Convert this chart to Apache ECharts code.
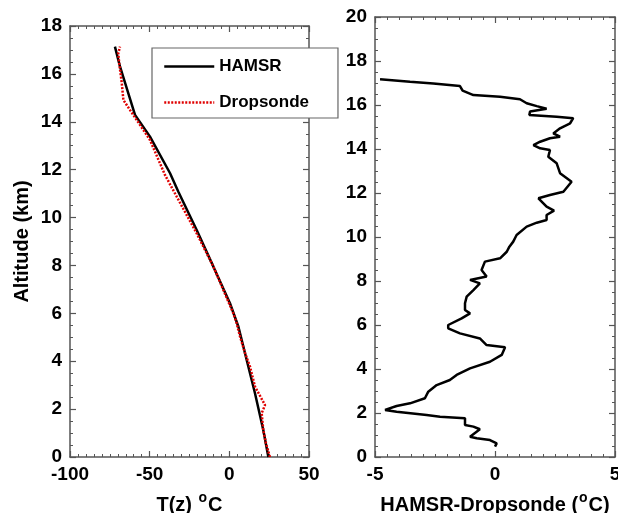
<!DOCTYPE html>
<html>
<head>
<meta charset="utf-8">
<script src="https://cdn.jsdelivr.net/npm/echarts@6/dist/echarts.min.js"></script>
<style>
  html, body { margin: 0; padding: 0; background: #fff; }
  #chart { width: 618px; height: 513px; }
</style>
</head>
<body>
<div id="chart"></div>
<script>
// Temperature profiles (left panel): altitude in km, temperature in degC
const hamsrAlt  = [0, 1.13, 2.66, 4.05, 5.44, 6.42, 7.95, 9.48, 11.08, 11.85, 13.38, 14.29, 16.30, 17.14];
const hamsrTemp = [24.5, 21.3, 16.1, 10.9, 5.7, 0.4, -10.0, -20.5, -32.0, -37.2, -49.8, -59.2, -68.6, -71.8];

const sondeAlt  = [0, 0.57, 1.13, 1.83, 2.17, 2.94, 3.77, 4.33, 5.03, 5.58, 6.0, 7.95, 9.34, 10.87, 11.78, 13.24, 14.29, 14.91, 15.61, 16.44, 16.86, 17.14];
const sondeTemp = [25.5, 23.0, 21.3, 20.3, 22.4, 16.1, 13.0, 9.9, 6.7, 4.6, 2.5, -10.0, -20.5, -33.0, -40.4, -49.8, -60.3, -66.5, -67.5, -69.1, -69.7, -68.6];

// Difference profile (right panel): HAMSR minus dropsonde, degC
const diffAlt = [0.47, 0.62, 0.77, 0.85, 0.92, 1.26, 1.38, 1.45, 1.76, 1.83, 1.91, 2.06, 2.14, 2.32, 2.44, 2.67, 2.97, 3.27, 3.50, 3.73, 4.03, 4.33, 4.64, 4.99, 5.09, 5.39, 5.62, 5.85, 6.0, 6.30, 6.53, 6.68, 6.99, 7.29, 7.59, 7.89, 8.05, 8.2, 8.5, 8.88, 9.03, 9.33, 9.56, 9.79, 10.09, 10.47, 10.65, 10.77, 11.0, 11.20, 11.38, 11.76, 11.91, 12.06, 12.51, 12.90, 13.35, 13.65, 13.95, 14.03, 14.18, 14.33, 14.49, 14.56, 14.71, 14.94, 15.17, 15.40, 15.47, 15.55, 15.70, 15.83, 15.95, 16.08, 16.26, 16.38, 16.45, 16.65, 16.86, 16.98, 17.06, 17.17];
const diffVal = [0.0, 0.07, -0.21, -0.76, -1.04, -0.63, -0.90, -1.25, -1.25, -2.29, -2.85, -4.10, -4.58, -4.10, -3.54, -2.92, -2.78, -2.43, -1.88, -1.60, -1.04, -0.21, 0.28, 0.42, -0.35, -0.63, -1.46, -1.95, -1.95, -1.39, -1.04, -1.25, -1.25, -1.18, -0.90, -0.63, -1.04, -0.35, -0.56, -0.42, 0.21, 0.49, 0.6, 0.76, 0.90, 1.32, 1.74, 2.15, 2.15, 2.46, 2.15, 1.81, 2.29, 2.85, 3.19, 2.71, 2.57, 2.22, 2.29, 1.88, 1.60, 1.88, 2.29, 2.71, 2.43, 2.71, 3.13, 3.26, 2.57, 1.43, 1.46, 2.15, 1.74, 1.32, 1.04, 0.21, -0.90, -1.35, -1.46, -2.57, -3.54, -4.79];

const tempTicks = { min: -100, max: 50, interval: 50 };
const altTicksLeft = { min: 0, max: 18, interval: 2 };
const diffTicks = { min: -5, max: 5, interval: 5 };
const altTicksRight = { min: 0, max: 20, interval: 2 };

const pairs = (xs, ys) => xs.map((x, i) => [x, ys[i]]);

const FONT = '"Liberation Sans", Arial, sans-serif';
const frameColor = '#555';

function axisBase(labels, labelMargin) {
  return {
    type: 'value',
    axisLine: { show: true, onZero: false, lineStyle: { color: frameColor, width: 1.5 } },
    axisTick: { show: true, inside: true, length: 6, lineStyle: { color: frameColor, width: 1.2 } },
    splitLine: { show: false },
    axisLabel: labels
      ? { show: true, color: '#000', fontFamily: FONT, fontWeight: 'bold', fontSize: 19, margin: labelMargin }
      : { show: false }
  };
}

function minor(n) {
  return { show: true, splitNumber: n, length: 3, lineStyle: { color: frameColor, width: 1 } };
}

const titleStyle = {
  color: '#000', fontFamily: FONT, fontWeight: 'bold', fontSize: 20,
  rich: {
    b: { color: '#000', fontFamily: FONT, fontWeight: 'bold', fontSize: 20 },
    s: { color: '#000', fontFamily: FONT, fontWeight: 'bold', fontSize: 14, padding: [0, 1, 14, 1] }
  }
};

const chart = echarts.init(document.getElementById('chart'), null, { renderer: 'canvas' });

chart.setOption({
  animation: false,
  backgroundColor: '#fff',
  grid: [
    { left: 70, right: 309, top: 26, bottom: 56, containLabel: false, outerBoundsMode: 'none' },
    { left: 375, right: 3, top: 17, bottom: 56, containLabel: false, outerBoundsMode: 'none' }
  ],
  legend: {
    data: ['HAMSR', 'Dropsonde'],
    orient: 'vertical',
    left: 152, top: 48,
    padding: [10, 29, 7, 11],
    itemWidth: 50, itemHeight: 14, itemGap: 19,
    backgroundColor: '#fff',
    borderColor: '#666', borderWidth: 1.2,
    itemStyle: { opacity: 0 },
    lineStyle: { width: 2.5 },
    textStyle: { color: '#000', fontFamily: FONT, fontWeight: 'bold', fontSize: 17 },
    z: 10
  },
  xAxis: [
    Object.assign(axisBase(true, 8), {
      gridIndex: 0, position: 'bottom', min: tempTicks.min, max: tempTicks.max, interval: tempTicks.interval,
      minorTick: minor(10),
      name: '{b|T(z) }{s|o}{b|C}', nameLocation: 'middle', nameGap: 34, nameTextStyle: titleStyle
    }),
    Object.assign(axisBase(false), {
      gridIndex: 0, position: 'top', min: tempTicks.min, max: tempTicks.max, interval: tempTicks.interval,
      minorTick: minor(10)
    }),
    Object.assign(axisBase(true, 8), {
      gridIndex: 1, position: 'bottom', min: diffTicks.min, max: diffTicks.max, interval: diffTicks.interval,
      minorTick: minor(10),
      name: '{b|HAMSR-Dropsonde (}{s|o}{b|C)}', nameLocation: 'middle', nameGap: 34, nameTextStyle: titleStyle
    }),
    Object.assign(axisBase(false), {
      gridIndex: 1, position: 'top', min: diffTicks.min, max: diffTicks.max, interval: diffTicks.interval,
      minorTick: minor(10)
    })
  ],
  yAxis: [
    Object.assign(axisBase(true, 8), {
      gridIndex: 0, position: 'left', min: altTicksLeft.min, max: altTicksLeft.max, interval: altTicksLeft.interval,
      minorTick: minor(4),
      name: 'Altitude (km)', nameLocation: 'middle', nameGap: 38, nameRotate: 90,
      nameTextStyle: { color: '#000', fontFamily: FONT, fontWeight: 'bold', fontSize: 20 }
    }),
    Object.assign(axisBase(false), {
      gridIndex: 0, position: 'right', min: altTicksLeft.min, max: altTicksLeft.max, interval: altTicksLeft.interval,
      minorTick: minor(4)
    }),
    Object.assign(axisBase(true, 8), {
      gridIndex: 1, position: 'left', min: altTicksRight.min, max: altTicksRight.max, interval: altTicksRight.interval,
      minorTick: minor(4)
    }),
    Object.assign(axisBase(false), {
      gridIndex: 1, position: 'right', min: altTicksRight.min, max: altTicksRight.max, interval: altTicksRight.interval,
      minorTick: minor(4)
    })
  ],
  series: [
    {
      name: 'HAMSR', type: 'line', xAxisIndex: 0, yAxisIndex: 0,
      data: pairs(hamsrTemp, hamsrAlt), showSymbol: false, symbol: 'none',
      lineStyle: { color: '#000', width: 2.5 }, itemStyle: { color: '#000' }, z: 3
    },
    {
      name: 'Dropsonde', type: 'line', xAxisIndex: 0, yAxisIndex: 0,
      data: pairs(sondeTemp, sondeAlt), showSymbol: false, symbol: 'none',
      lineStyle: { color: '#e00000', width: 2.5, type: [2, 1.5] }, itemStyle: { color: '#e00000' }, z: 4
    },
    {
      name: 'HAMSR-Dropsonde', type: 'line', xAxisIndex: 2, yAxisIndex: 2,
      data: pairs(diffVal, diffAlt), showSymbol: false, symbol: 'none',
      lineStyle: { color: '#000', width: 2.5 }, itemStyle: { color: '#000' }
    }
  ]
});
</script>
</body>
</html>
